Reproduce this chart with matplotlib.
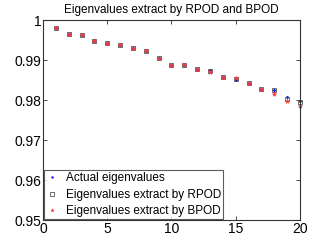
import numpy as np
import matplotlib
matplotlib.use("Agg")
import matplotlib.pyplot as plt

plt.rcParams['font.family'] = ['Liberation Sans', 'DejaVu Sans']

# values
idx = np.arange(1, 21)
actual = [0.9981, 0.99643, 0.99625, 0.99483, 0.99417, 0.99367, 0.99292, 0.99225, 0.99042, 0.98883,
          0.98883, 0.98775, 0.9875, 0.98567, 0.98492, 0.98425, 0.98283, 0.98258, 0.98083, 0.97983]
rpod = [0.9981, 0.99643, 0.99625, 0.99483, 0.99417, 0.99367, 0.99292, 0.99225, 0.99042, 0.98883,
        0.98883, 0.98775, 0.9873, 0.98567, 0.98517, 0.98425, 0.98283, 0.98258, 0.98017, 0.97958]
bpod = [0.9981, 0.99643, 0.99625, 0.99483, 0.99417, 0.99367, 0.99292, 0.99225, 0.99042, 0.98883,
        0.98883, 0.98775, 0.9870, 0.98567, 0.98542, 0.98425, 0.98283, 0.9815, 0.97975, 0.97842]

fig = plt.figure(figsize=(3.32, 2.49), dpi=100)
ax = fig.add_axes([0.1295, 0.116, 0.774, 0.803])

ax.plot(idx, actual, '.', color='blue', markersize=2, clip_on=False, label='Actual eigenvalues')
ax.plot(idx, rpod, 's', mfc='none', mec='#555555', markersize=3.2, mew=0.6, clip_on=False,
        label='Eigenvalues extract by RPOD')
ax.plot(idx, bpod, '*', color='#ff3333', markersize=3.2, mew=0.4, clip_on=False,
        label='Eigenvalues extract by BPOD')

ax.set_xlim(0, 20)
ax.set_ylim(0.95, 1)
ax.set_xticks([0, 5, 10, 15, 20])
ax.set_yticks([0.95, 0.96, 0.97, 0.98, 0.99, 1])
ax.set_yticklabels(['0.95', '0.96', '0.97', '0.98', '0.99', '1'])
ax.tick_params(direction='in', top=True, right=True, labelsize=10, length=3, width=0.5, pad=1.2)
for s in ax.spines.values():
    s.set_linewidth(0.8)
    s.set_color('#333333')
ax.set_title('Eigenvalues extract by RPOD and BPOD', fontsize=8.5, pad=5)

leg = ax.legend(loc='lower left', fontsize=8.5, fancybox=False, edgecolor='#333333',
                borderaxespad=0.1, handlelength=1.0, handletextpad=0.7, borderpad=0.15,
                labelspacing=0.38, markerscale=0.7)
leg.get_frame().set_linewidth(0.8)

fig.savefig('out.png', dpi=100)
